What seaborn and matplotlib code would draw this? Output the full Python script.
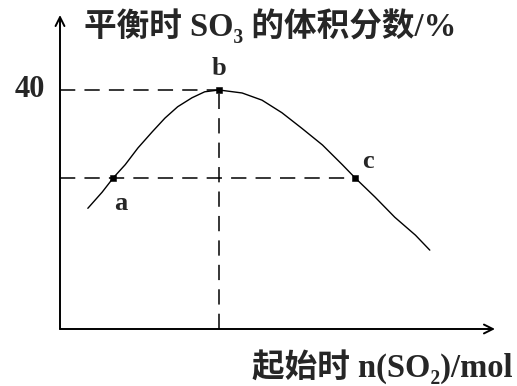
import matplotlib
matplotlib.use("Agg")
import matplotlib.pyplot as plt
import seaborn as sns
import pandas as pd

# Starting amount of SO2 (arbitrary units) and equilibrium SO3 volume fraction (%)
curve_n = [0.35, 0.53, 0.67, 0.82, 0.98, 1.16, 1.32, 1.48, 1.66, 1.82, 2.00,
           2.29, 2.54, 2.79, 3.04, 3.30, 3.55, 3.71, 3.96, 4.21, 4.47, 4.65]
curve_pct = [20.2, 22.9, 25.3, 27.5, 30.3, 33.0, 35.3, 37.2, 38.7, 39.7, 40.0,
             39.5, 38.3, 36.2, 33.6, 30.8, 27.5, 25.3, 22.1, 18.7, 15.7, 13.2]

point_names = ["a", "b", "c"]
point_n = [0.67, 2.00, 3.71]
point_pct = [25.3, 40.0, 25.3]

y_tick_values = [40]
y_tick_labels = ["40"]

title_text = "平衡时 SO₃ 的体积分数/%"
xlabel_text = "起始时 n(SO₂)/mol"

sns.set_theme(style="white")
plt.rcParams["font.family"] = ["Liberation Serif", "Noto Sans CJK SC", "DejaVu Serif"]

W, H = 517, 386
fig = plt.figure(figsize=(W / 100, H / 100), dpi=100)
ax = fig.add_axes([60 / W, 57 / H, 435 / W, 314 / H])
ax.set_xlim(0, 5.47)
ax.set_ylim(0, 52.55)
ax.axis("off")

curve = pd.DataFrame({"n": curve_n, "pct": curve_pct})
pts = pd.DataFrame({"n": point_n, "pct": point_pct, "name": point_names})

# dashed guide lines to the axes
guide = dict(color="black", lw=1.1, dashes=(10, 6), zorder=1)
ax.plot([0, point_n[1]], [point_pct[1]] * 2, **guide)
ax.plot([point_n[1]] * 2, [0, point_pct[1]], **guide)
ax.plot([0, point_n[2]], [point_pct[0], point_pct[2]], **guide)

sns.lineplot(data=curve, x="n", y="pct", color="black", lw=1.0, ax=ax,
             sort=False, zorder=2, solid_joinstyle="round")
sns.scatterplot(data=pts, x="n", y="pct", color="black", marker="s", s=24,
                edgecolor="black", ax=ax, zorder=3)

# axes with arrowheads
arrow = dict(arrowstyle="->", color="black", lw=1.4, shrinkA=0, shrinkB=0,
             mutation_scale=16)
ax.annotate("", xy=(1, 0), xytext=(0, 0), xycoords="axes fraction",
            textcoords="axes fraction", arrowprops=arrow, annotation_clip=False)
ax.annotate("", xy=(0, 1), xytext=(0, 0), xycoords="axes fraction",
            textcoords="axes fraction", arrowprops=arrow, annotation_clip=False)

# y value label
for v, lab in zip(y_tick_values, y_tick_labels):
    ax.text(-0.19, v, lab, ha="right", va="center", fontsize=22,
            fontweight="bold", clip_on=False)

# point labels
offsets = {"a": (0.09, -2.4, "center", "top"),
           "b": (0.0, 1.6, "center", "bottom"),
           "c": (0.09, 0.8, "left", "bottom")}
for name, n, p in zip(point_names, point_n, point_pct):
    dx, dy, ha, va = offsets[name]
    ax.text(n + dx, p + dy, name, ha=ha, va=va, fontsize=19,
            fontweight="bold", clip_on=False)

fig.text(84 / W, 1 - 26 / H, title_text, ha="left", va="center",
         fontsize=23.5, fontweight="bold")
fig.text(512 / W, 1 - 367 / H, xlabel_text, ha="right", va="center",
         fontsize=23.5, fontweight="bold")

fig.savefig("out.png", dpi=100)
